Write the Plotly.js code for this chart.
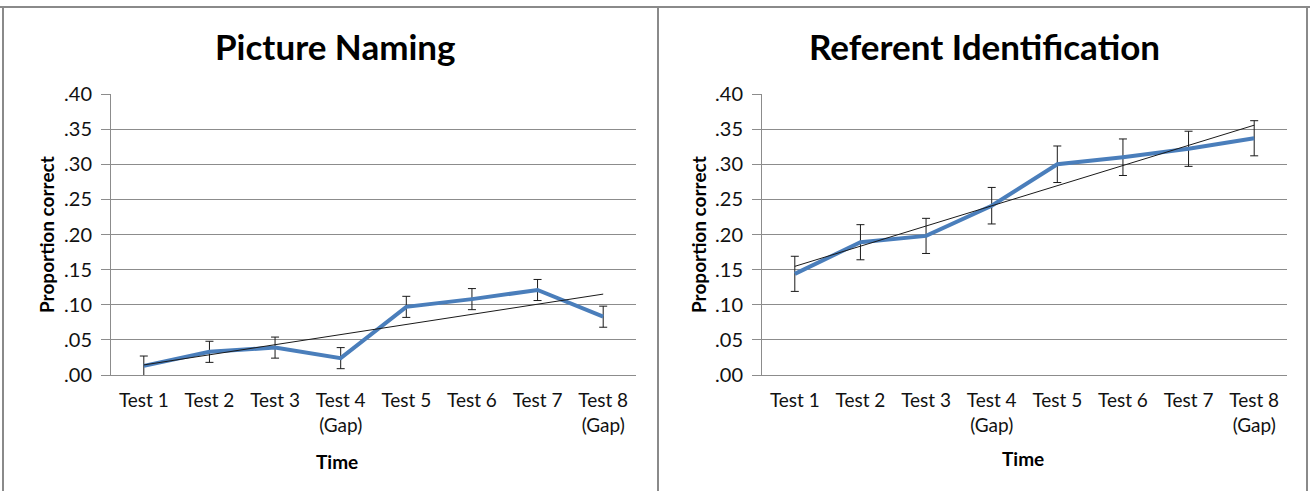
<!DOCTYPE html>
<html>
<head>
<meta charset="utf-8">
<script src="https://cdn.plot.ly/plotly-3.0.1.min.js"></script>
<style>html,body{margin:0;padding:0;background:#fff;}#chart{width:1310px;height:491px;}</style>
</head>
<body>
<div id="chart"></div>
<script>
// ---- data ----
var categories = ['Test 1', 'Test 2', 'Test 3', 'Test 4<br>(Gap)', 'Test 5', 'Test 6', 'Test 7', 'Test 8<br>(Gap)'];
var namingValues = [0.013, 0.033, 0.039, 0.024, 0.097, 0.108, 0.121, 0.083];
var namingErrors = [0.014, 0.015, 0.015, 0.015, 0.015, 0.015, 0.015, 0.015];
var referentValues = [0.144, 0.189, 0.198, 0.241, 0.300, 0.310, 0.322, 0.337];
var referentErrors = [0.025, 0.025, 0.025, 0.026, 0.026, 0.026, 0.025, 0.025];
var yTickValues = [0, 0.05, 0.10, 0.15, 0.20, 0.25, 0.30, 0.35, 0.40];
var yTickLabels = ['.00', '.05', '.10', '.15', '.20', '.25', '.30', '.35', '.40'];
var chartTitles = ['Picture Naming', 'Referent Identification'];
var xTitle = 'Time';
var yTitle = 'Proportion correct';

// linear least-squares trend (as the spreadsheet trendline)
function linearTrend(vals) {
  var n = vals.length, sx = 0, sy = 0, sxy = 0, sxx = 0;
  for (var i = 0; i < n; i++) { var x = i + 1; sx += x; sy += vals[i]; sxy += x * vals[i]; sxx += x * x; }
  var b = (n * sxy - sx * sy) / (n * sxx - sx * sx);
  var a = (sy - b * sx) / n;
  return [a + b * 1, a + b * n];
}

var W = 1310, H = 491;
function px(x) { return x / W; }
function py(y) { return 1 - y / H; }

var FONT = 'Lato, "Open Sans", "DejaVu Sans", sans-serif';
var GRID = '#8c8c8c';
var BLUE = '#4a7ebb';

function seriesTraces(vals, errs, xa, ya) {
  var t = linearTrend(vals);
  return [
    {
      x: categories, y: vals, xaxis: xa, yaxis: ya, type: 'scatter', mode: 'lines',
      line: {color: BLUE, width: 4},
      error_y: {type: 'data', array: errs, visible: true, color: '#1a1a1a', thickness: 1, width: 4},
      hoverinfo: 'y', showlegend: false
    },
    {
      x: [categories[0], categories[categories.length - 1]], y: t, xaxis: xa, yaxis: ya,
      type: 'scatter', mode: 'lines', line: {color: '#1a1a1a', width: 1},
      hoverinfo: 'skip', showlegend: false
    }
  ];
}

var data = [].concat(
  seriesTraces(namingValues, namingErrors, 'x', 'y'),
  seriesTraces(referentValues, referentErrors, 'x2', 'y2')
);

function xaxisDef(d0, d1, anchor) {
  return {
    domain: [px(d0), px(d1)], anchor: anchor, type: 'category',
    range: [-0.5, categories.length - 0.5],
    showgrid: false, zeroline: false, showline: true, linecolor: GRID, linewidth: 1,
    ticks: '', tickfont: {family: FONT, size: 19, color: '#111'},
    tickvals: categories, ticktext: categories, ticklabelstandoff: 8,
    fixedrange: true
  };
}
function yaxisDef(anchor) {
  return {
    domain: [py(375), py(94)], anchor: anchor, range: [0, 0.4],
    tickvals: yTickValues, ticktext: yTickLabels,
    showgrid: true, gridcolor: GRID, gridwidth: 1, zeroline: false,
    showline: true, linecolor: GRID, linewidth: 1,
    ticks: 'outside', ticklen: 9, tickcolor: GRID, tickwidth: 1,
    tickfont: {family: FONT, size: 20, color: '#111'}, ticklabelstandoff: 5,
    fixedrange: true
  };
}

var borderColor = '#8a8a8a';
var layout = {
  width: W, height: H,
  margin: {l: 0, r: 0, t: 0, b: 0, pad: 0},
  paper_bgcolor: '#ffffff', plot_bgcolor: '#ffffff',
  showlegend: false,
  xaxis: xaxisDef(111, 636, 'y'),
  yaxis: yaxisDef('x'),
  xaxis2: xaxisDef(762, 1287, 'y2'),
  yaxis2: yaxisDef('x2'),
  shapes: [
    {type: 'line', xref: 'paper', yref: 'paper', x0: 0, x1: 1, y0: py(7), y1: py(7), line: {color: borderColor, width: 2}},
    {type: 'line', xref: 'paper', yref: 'paper', x0: px(3), x1: px(3), y0: py(7), y1: 0, line: {color: borderColor, width: 2}},
    {type: 'line', xref: 'paper', yref: 'paper', x0: px(658), x1: px(658), y0: py(7), y1: 0, line: {color: borderColor, width: 2}},
    {type: 'line', xref: 'paper', yref: 'paper', x0: px(1307), x1: px(1307), y0: py(7), y1: 0, line: {color: borderColor, width: 2}}
  ],
  annotations: [
    {text: chartTitles[0], xref: 'paper', yref: 'paper', x: px(335), y: py(46), xanchor: 'center', yanchor: 'middle', showarrow: false,
     font: {family: FONT, size: 35, color: '#000', weight: 'bold'}},
    {text: chartTitles[1], xref: 'paper', yref: 'paper', x: px(984), y: py(46), xanchor: 'center', yanchor: 'middle', showarrow: false,
     font: {family: FONT, size: 35, color: '#000', weight: 'bold'}},
    {text: yTitle, xref: 'paper', yref: 'paper', x: px(47), y: py(235), xanchor: 'center', yanchor: 'middle', showarrow: false, textangle: -90,
     font: {family: FONT, size: 19, color: '#000', weight: 'bold'}},
    {text: yTitle, xref: 'paper', yref: 'paper', x: px(699), y: py(235), xanchor: 'center', yanchor: 'middle', showarrow: false, textangle: -90,
     font: {family: FONT, size: 19, color: '#000', weight: 'bold'}},
    {text: xTitle, xref: 'paper', yref: 'paper', x: px(337), y: py(461), xanchor: 'center', yanchor: 'middle', showarrow: false,
     font: {family: FONT, size: 19, color: '#000', weight: 'bold'}},
    {text: xTitle, xref: 'paper', yref: 'paper', x: px(1023), y: py(458), xanchor: 'center', yanchor: 'middle', showarrow: false,
     font: {family: FONT, size: 19, color: '#000', weight: 'bold'}}
  ]
};

Plotly.newPlot('chart', data, layout, {staticPlot: true, displayModeBar: false});
</script>
</body>
</html>
